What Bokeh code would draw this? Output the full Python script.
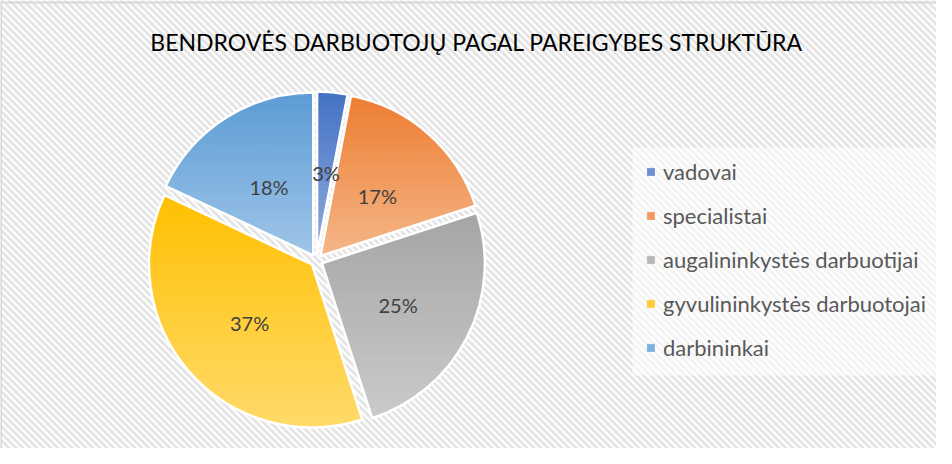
import math
from bokeh.plotting import figure
from bokeh.models import Range1d, BoxAnnotation, Span, Label, Legend, LegendItem, ColumnDataSource
from bokeh.core.properties import value
from bokeh.embed import file_html
from bokeh.resources import INLINE

# ---- data ----
title_text = "BENDROVĖS DARBUOTOJŲ PAGAL PAREIGYBES STRUKTŪRA"
categories = ["vadovai", "specialistai", "augalininkystės darbuotijai",
              "gyvulininkystės darbuotojai", "darbininkai"]
values = [3, 17, 25, 37, 18]
top_colors = ["#4472C4", "#ED7D31", "#A5A5A5", "#FFC000", "#5B9BD5"]
bottom_colors = ["#90ABDD", "#F5B688", "#CACACA", "#FFDA6A", "#9FC5E8"]

W, H = 936, 448
p = figure(width=W, height=H, output_backend="svg", toolbar_location=None,
           x_range=Range1d(0, W), y_range=Range1d(0, H),
           x_axis_location=None, y_axis_location=None, min_border=0,
           background_fill_color="white", border_fill_color="white")
p.grid.visible = False
p.outline_line_color = None

# striped background ("\" direction)
step = 7
sx0, sx1, sy0, sy1 = [], [], [], []
x0 = -H - step
while x0 < W + step:
    sx0.append(x0); sy0.append(H + 2)
    sx1.append(x0 + H + 4); sy1.append(-2)
    x0 += step
p.segment(x0=sx0, y0=sy0, x1=sx1, y1=sy1, line_color="#e4e4e4", line_width=2.8, level="underlay")

# semi-transparent legend panel
p.add_layout(BoxAnnotation(left=632, right=W + 10, bottom=73, top=301,
                           fill_color="white", fill_alpha=0.6, line_alpha=0, level="underlay"))

# chart border (top, left)
p.add_layout(Span(location=H - 2, dimension="width", line_color="#d9d9d9", line_width=2))
p.add_layout(Span(location=0.5, dimension="height", line_color="#d9d9d9", line_width=2))

# pie geometry (screen-like units)
cx, cy, R, d = 316, H - 260, 163, 6
total = float(sum(values))


def hex2rgb(h):
    h = h.lstrip("#")
    return tuple(int(h[i:i + 2], 16) for i in (0, 2, 4))


def mix(c1, c2, t):
    a, b = hex2rgb(c1), hex2rgb(c2)
    return "#%02x%02x%02x" % tuple(int(round(a[i] + (b[i] - a[i]) * t)) for i in range(3))


def clip(poly, ylo, yhi):
    def clip_half(pts, keep, inter):
        out = []
        n = len(pts)
        for i in range(n):
            P, Q = pts[i], pts[(i + 1) % n]
            kp, kq = keep(P), keep(Q)
            if kp:
                out.append(P)
            if kp != kq:
                out.append(inter(P, Q))
        return out

    def ix(P, Q, yv):
        t = (yv - P[1]) / (Q[1] - P[1])
        return (P[0] + t * (Q[0] - P[0]), yv)

    pts = clip_half(poly, lambda P: P[1] >= ylo, lambda P, Q: ix(P, Q, ylo))
    if not pts:
        return []
    pts = clip_half(pts, lambda P: P[1] <= yhi, lambda P, Q: ix(P, Q, yhi))
    return pts


N = 48
renderers = []
label_x, label_y, label_t = [], [], []
wx, wy, ws, we = [], [], [], []
f0 = 0.0
for k, v in enumerate(values):
    f1 = f0 + v / total
    a0 = math.pi / 2 - 2 * math.pi * f0
    a1 = math.pi / 2 - 2 * math.pi * f1
    am = (a0 + a1) / 2
    ox, oy = cx + d * math.cos(am), cy + d * math.sin(am)
    steps = max(8, int(abs(a1 - a0) * 60))
    poly = [(ox, oy)] + [(ox + R * math.cos(a0 + (a1 - a0) * i / steps),
                          oy + R * math.sin(a0 + (a1 - a0) * i / steps)) for i in range(steps + 1)]
    ymin = min(q[1] for q in poly)
    ymax = max(q[1] for q in poly)
    xs, ys, cols = [], [], []
    for i in range(N):
        yhi = ymax - (ymax - ymin) * i / N
        ylo = ymax - (ymax - ymin) * (i + 1) / N
        band = clip(poly, ylo, yhi)
        if len(band) < 3:
            continue
        xs.append([q[0] for q in band])
        ys.append([q[1] for q in band])
        cols.append(mix(top_colors[k], bottom_colors[k], (i + 0.5) / N))
    src = ColumnDataSource(dict(xs=xs, ys=ys, c=cols))
    r = p.patches("xs", "ys", source=src, fill_color="c", line_color="c", line_width=0.8)
    renderers.append((r, len(cols) // 2))
    wx.append(ox); wy.append(oy); ws.append(a0); we.append(a1)
    rl = 0.5 * R + d + 3
    label_x.append(cx + rl * math.cos(am) + 1)
    label_y.append(cy + rl * math.sin(am) - 3)
    label_t.append("%d%%" % round(v / total * 100))
    f0 = f1

p.wedge(x=wx, y=wy, radius=R, start_angle=ws, end_angle=we, direction="clock",
        fill_color=None, line_color="white", line_width=2.5)

p.text(x=label_x, y=label_y, text=label_t, text_font=value("Lato"), text_font_size="20px",
       text_color="#404040", text_align="center", text_baseline="middle")

p.add_layout(Label(x=476, y=H - 41, x_units="data", y_units="data", text=title_text,
                   text_font="Lato", text_font_size="23px", text_color="#000000",
                   text_align="center", text_baseline="middle"))

items = [LegendItem(label=categories[k], renderers=[r], index=idx)
         for k, (r, idx) in enumerate(renderers)]
legend = Legend(items=items, location=(646, 87), orientation="vertical",
                label_text_font="Lato", label_text_font_size="22px", label_text_color="#595959",
                glyph_width=9, glyph_height=9, label_height=26, label_standoff=8,
                spacing=17, padding=0, margin=0,
                background_fill_alpha=0, border_line_color=None)
p.add_layout(legend)

open("out.html", "w").write(file_html(p, INLINE))
